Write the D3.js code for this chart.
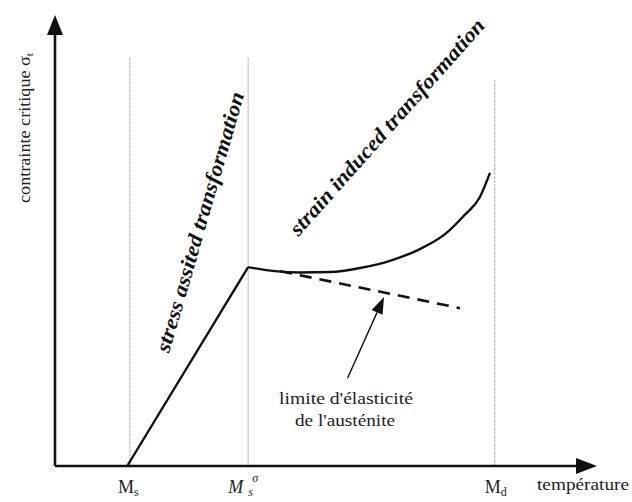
<!DOCTYPE html>
<html><head><meta charset="utf-8">
<script src="https://cdn.jsdelivr.net/npm/d3@7/dist/d3.min.js"></script>
<style>body{margin:0;background:#fff}svg{display:block}
text{font-family:"Liberation Serif","Times New Roman",serif}</style>
</head><body>
<svg id="c" width="632" height="502"></svg>
<script>
// --- data (arbitrary units: temperature 0-100, stress 0-100) ---
const markerNames = ["Ms", "Msσ", "Md"];
const markerTemps = [14.0, 36.1, 82.2];
const markerTops = [90.5, 90.5, 85.6];
const stressAssistedT = [13.5, 36.1];
const stressAssistedS = [0, 44.1];
const strainInducedT = [36.1, 41.1, 45.8, 51.4, 57.0, 62.6, 68.2, 72.9, 76.6, 79.4, 81.3];
const strainInducedS = [44.1, 43.2, 42.9, 43.0, 43.9, 45.5, 48.1, 51.4, 55.7, 59.6, 65.0];
const elasticT = [42.1, 75.7];
const elasticS = [43.2, 35.0];
const pointerT = [54.7, 61.5];
const pointerS = [19.5, 37.5];

const svg = d3.select("#c");
const x = d3.scaleLinear().domain([0, 100]).range([55, 590]);
const y = d3.scaleLinear().domain([0, 100]).range([466, 15]);
const ink = "#111";

// vertical guide lines
markerTemps.forEach((t, i) => {
  svg.append("line").attr("x1", x(t)).attr("x2", x(t))
    .attr("y1", y(markerTops[i])).attr("y2", y(0))
    .attr("stroke", "#aaa").attr("stroke-width", 1).attr("stroke-dasharray", "3,1");
});

// axes
svg.append("line").attr("x1", x(0)).attr("x2", 580).attr("y1", y(0)).attr("y2", y(0))
  .attr("stroke", ink).attr("stroke-width", 2.6);
svg.append("line").attr("x1", x(0)).attr("x2", x(0)).attr("y1", y(0)).attr("y2", 30)
  .attr("stroke", ink).attr("stroke-width", 2.6);
svg.append("path").attr("d", `M597,${y(0)} L576,${y(0)-8} L576,${y(0)+8} Z`).attr("fill", ink);
svg.append("path").attr("d", `M${x(0)},15 L${x(0)-8},35 L${x(0)+8},35 Z`).attr("fill", ink);

const line = d3.line().x(d => x(d[0])).y(d => y(d[1]));
const smooth = d3.line().x(d => x(d[0])).y(d => y(d[1])).curve(d3.curveMonotoneX);

// stress assisted segment
svg.append("path").datum(stressAssistedT.map((t, i) => [t, stressAssistedS[i]]))
  .attr("d", line).attr("fill", "none").attr("stroke", ink).attr("stroke-width", 2.4);

// strain induced curve
svg.append("path").datum(strainInducedT.map((t, i) => [t, strainInducedS[i]]))
  .attr("d", smooth).attr("fill", "none")
  .attr("stroke", ink).attr("stroke-width", 2.4);

// elastic limit (dashed)
svg.append("path").datum(elasticT.map((t, i) => [t, elasticS[i]]))
  .attr("d", line).attr("fill", "none").attr("stroke", ink)
  .attr("stroke-width", 2.6).attr("stroke-dasharray", "12,8");

// pointer arrow
const px0 = x(pointerT[0]), py0 = y(pointerS[0]), px1 = x(pointerT[1]), py1 = y(pointerS[1]);
const ang = Math.atan2(py1 - py0, px1 - px0);
const hl = 17, hw = 6;
const bx = px1 - hl * Math.cos(ang), by = py1 - hl * Math.sin(ang);
svg.append("line").attr("x1", px0).attr("y1", py0).attr("x2", bx).attr("y2", by)
  .attr("stroke", ink).attr("stroke-width", 1.4);
svg.append("path").attr("d",
  `M${px1},${py1} L${bx + hw*Math.sin(ang)},${by - hw*Math.cos(ang)} L${bx - hw*Math.sin(ang)},${by + hw*Math.cos(ang)} Z`)
  .attr("fill", ink);

// annotation text
svg.append("text").attr("x", 346).attr("y", 404).attr("text-anchor", "middle")
  .attr("font-size", 17).attr("textLength", 134).attr("lengthAdjust", "spacingAndGlyphs")
  .attr("fill", "#222").text("limite d'élasticité");
svg.append("text").attr("x", 345).attr("y", 426).attr("text-anchor", "middle")
  .attr("font-size", 17).attr("textLength", 100).attr("lengthAdjust", "spacingAndGlyphs")
  .attr("fill", "#222").text("de l'austénite");

// rotated region labels
svg.append("text").attr("transform", "translate(200,222) rotate(-73.8)")
  .attr("text-anchor", "middle").attr("dominant-baseline", "central")
  .attr("font-style", "italic").attr("font-weight", "bold")
  .attr("font-size", 21).attr("textLength", 270).attr("lengthAdjust", "spacingAndGlyphs")
  .attr("fill", ink).text("stress assited transformation");
svg.append("text").attr("transform", "translate(387,127) rotate(-48.3)")
  .attr("text-anchor", "middle").attr("dominant-baseline", "central")
  .attr("font-style", "italic").attr("font-weight", "bold")
  .attr("font-size", 21).attr("textLength", 282).attr("lengthAdjust", "spacingAndGlyphs")
  .attr("fill", ink).text("strain induced transformation");

// y axis label
const yl = svg.append("text").attr("transform", "translate(30,203) rotate(-90)")
  .attr("font-size", 16).attr("textLength", 150).attr("lengthAdjust", "spacingAndGlyphs")
  .attr("fill", "#222");
yl.append("tspan").text("contrainte critique σ");
yl.append("tspan").attr("font-size", 10).attr("dy", 3).text("t");

// x tick labels
const lab = (xx, main, sub, italic, subDx) => {
  const t = svg.append("text").attr("x", xx).attr("y", 493)
    .attr("font-size", 18).attr("fill", "#222");
  t.append("tspan").attr("font-style", italic ? "italic" : "normal").text(main);
  t.append("tspan").attr("font-size", 12).attr("font-style", italic ? "italic" : "normal")
    .attr("dy", 3).attr("dx", subDx).text(sub);
};
lab(x(markerTemps[0]) - 12, "M", "s", false, 0);
lab(x(markerTemps[1]) - 20, "M", "s", true, 5);
svg.append("text").attr("x", x(markerTemps[1]) + 4).attr("y", 482)
  .attr("font-size", 12).attr("font-style", "italic").attr("fill", "#222").text("σ");
lab(x(markerTemps[2]) - 10, "M", "d", false, 0);

svg.append("text").attr("x", 537).attr("y", 490)
  .attr("font-size", 16).attr("textLength", 92).attr("lengthAdjust", "spacingAndGlyphs")
  .attr("fill", "#222").text("température");
</script>
</body></html>
